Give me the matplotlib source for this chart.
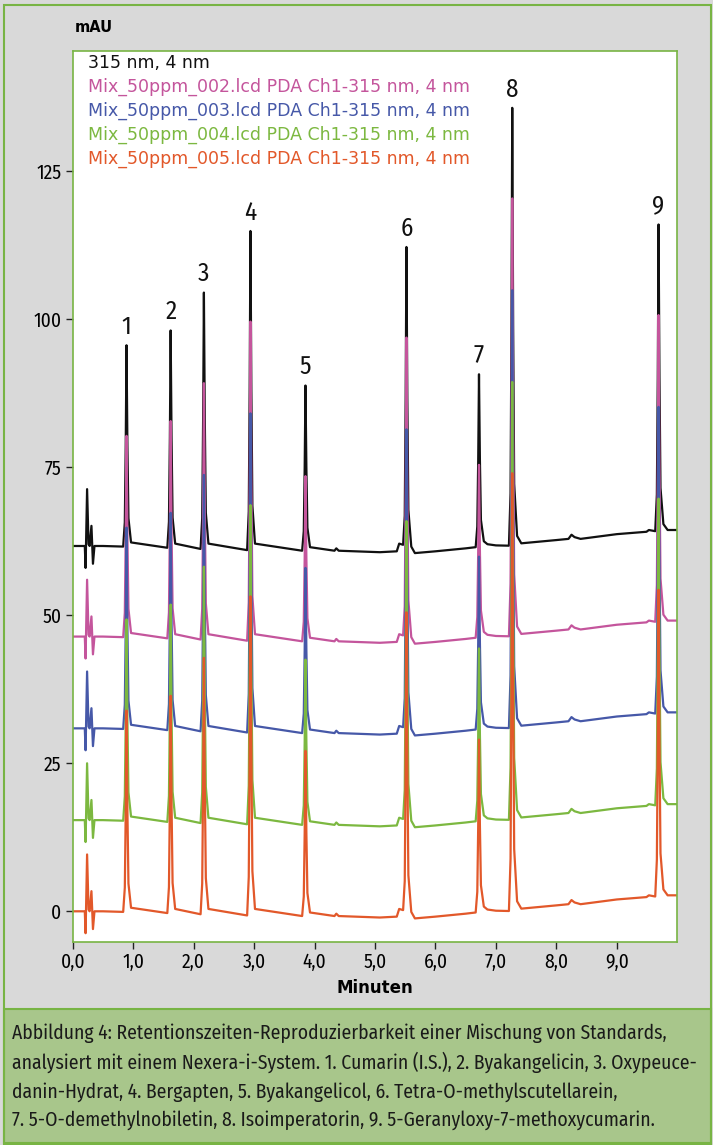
import matplotlib
matplotlib.use("Agg")
import matplotlib.pyplot as plt
from matplotlib.patches import Rectangle

plt.rcParams['font.family'] = ['Fira Sans Condensed', 'DejaVu Sans']

# Chromatogram profile (minutes, mAU above the start baseline)
t_min = [0.00, 0.20, 0.213, 0.238, 0.262, 0.28, 0.31, 0.335, 0.36, 0.50,
         0.835, 0.862, 0.877, 0.89, 0.905, 0.922, 0.965,
         1.565, 1.592, 1.607, 1.62, 1.635, 1.652, 1.695,
         2.115, 2.142, 2.157, 2.17, 2.185, 2.202, 2.245,
         2.885, 2.912, 2.927, 2.94, 2.955, 2.972, 3.015,
         3.795, 3.822, 3.837, 3.85, 3.865, 3.882, 3.925,
         4.33, 4.36, 4.40, 5.08,
         5.36, 5.40, 5.465, 5.492, 5.507, 5.52, 5.535, 5.552, 5.60, 5.66,
         6.00, 6.50, 6.665, 6.692, 6.707, 6.72, 6.735, 6.752, 6.80, 6.86,
         7.00, 7.215, 7.242, 7.257, 7.27, 7.285, 7.302, 7.35, 7.42,
         8.00, 8.20, 8.25, 8.30, 8.40, 9.00, 9.49, 9.53, 9.635,
         9.662, 9.677, 9.69, 9.705, 9.722, 9.77, 9.84, 10.00]
signal = [0.0, 0.0, -3.7, 9.6, 0.3, 0.0, 3.4, -3.0, 0.0, 0.0,
          -0.1, 4.0, 16.9, 33.9, 16.9, 4.7, 0.6,
          -0.3, 4.1, 18.1, 36.4, 18.1, 4.8, 0.4,
          -0.5, 4.7, 21.2, 42.8, 21.2, 5.6, 0.4,
          -0.7, 5.8, 26.3, 53.2, 26.3, 6.8, 0.4,
          -0.8, 2.5, 13.2, 27.1, 13.2, 3.1, -0.2,
          -0.8, -0.4, -0.8, -1.05,
          -0.9, 0.4, 0.2, 5.1, 24.7, 50.5, 24.7, 6.1, -0.1, -1.2,
          -0.9, -0.4, -0.2, 3.3, 14.4, 29.0, 14.6, 4.4, 0.8, 0.3,
          0.1, 0.05, 8.9, 37.0, 74.0, 37.1, 10.5, 1.7, 0.45,
          1.0, 1.2, 1.9, 1.5, 1.2, 2.0, 2.4, 2.7, 2.5,
          8.7, 28.4, 54.3, 28.5, 9.8, 3.7, 2.7, 2.7]

# runs (black drawn first, orange on top)
run_names = ["315 nm, 4 nm",
             "Mix_50ppm_002.lcd PDA Ch1-315 nm, 4 nm",
             "Mix_50ppm_003.lcd PDA Ch1-315 nm, 4 nm",
             "Mix_50ppm_004.lcd PDA Ch1-315 nm, 4 nm",
             "Mix_50ppm_005.lcd PDA Ch1-315 nm, 4 nm"]
run_offsets = [61.7, 46.4, 30.9, 15.4, 0.0]
run_colors = ["#111111", "#c4559c", "#4658a8", "#7cb840", "#e2582a"]

# peak labels
peak_ids = ["1", "2", "3", "4", "5", "6", "7", "8", "9"]
peak_rt = [0.89, 1.62, 2.17, 2.94, 3.85, 5.52, 6.72, 7.27, 9.69]
peak_top = [95.6, 98.1, 104.5, 114.9, 88.8, 112.2, 90.7, 135.7, 116.0]

caption = ["Abbildung 4: Retentionszeiten-Reproduzierbarkeit einer Mischung von Standards,",
           "analysiert mit einem Nexera-i-System. 1. Cumarin (I.S.), 2. Byakangelicin, 3. Oxypeuce-",
           "danin-Hydrat, 4. Bergapten, 5. Byakangelicol, 6. Tetra-O-methylscutellarein,",
           "7. 5-O-demethylnobiletin, 8. Isoimperatorin, 9. 5-Geranyloxy-7-methoxycumarin."]

W, H = 713, 1145
fig = plt.figure(figsize=(W / 100, H / 100), dpi=100)
fig.patch.set_facecolor("#d9d9d9")
green = "#78b444"

# caption band and outer frame
fig.patches.append(Rectangle((4 / W, 0), 707 / W, 1 - 1008.5 / H, transform=fig.transFigure,
                             facecolor="#a8c68b", edgecolor=green, linewidth=1.5, zorder=0))
fig.patches.append(Rectangle((4 / W, 2 / H), 707 / W, 1 - 7 / H, transform=fig.transFigure,
                             facecolor="none", edgecolor=green, linewidth=1.5, zorder=1))

ax = fig.add_axes([72.7 / W, 1 - 941.5 / H, 604.6 / W, 890.5 / H])
ax.set_facecolor("white")
for off, col in zip(run_offsets, run_colors):
    ax.plot(t_min, [v + off for v in signal], color=col, linewidth=1.6, solid_joinstyle="round")

for lab, rt, top in zip(peak_ids, peak_rt, peak_top):
    ax.annotate(lab, (rt, top), xytext=(0, 8), textcoords="offset points",
                ha="center", va="baseline", fontsize=18, color="#111111")

ax.set_xlim(0, 10)
ax.set_ylim(-5.1, 145.3)
ax.set_xticks([0, 1, 2, 3, 4, 5, 6, 7, 8, 9])
ax.set_xticklabels(["0,0", "1,0", "2,0", "3,0", "4,0", "5,0", "6,0", "7,0", "8,0", "9,0"])
ax.set_yticks([0, 25, 50, 75, 100, 125])
ax.tick_params(direction="out", length=5, width=1, labelsize=14, color="#222222", pad=3)
for s in ax.spines.values():
    s.set_color(green)
    s.set_linewidth(1.2)
ax.set_xlabel("Minuten", fontsize=12, fontweight="bold", family="DejaVu Sans", labelpad=5)

fig.text(75 / W, 1 - 28 / H, "mAU", fontsize=10.5, fontweight="bold", family="DejaVu Sans",
         va="center", ha="left")

legend_y = [63, 87, 111, 135, 159]
for name, col, y in zip(run_names, run_colors, legend_y):
    fig.text(88.5 / W, 1 - y / H, name, color=col, fontsize=12.5, family="DejaVu Sans",
             va="center", ha="left")

cap_y = [1033, 1062, 1092, 1120]
for line, y in zip(caption, cap_y):
    fig.text(12 / W, 1 - y / H, line, fontsize=14.1, va="center", ha="left", color="#1a1a1a")

fig.savefig("out.png", dpi=100, facecolor=fig.get_facecolor())
